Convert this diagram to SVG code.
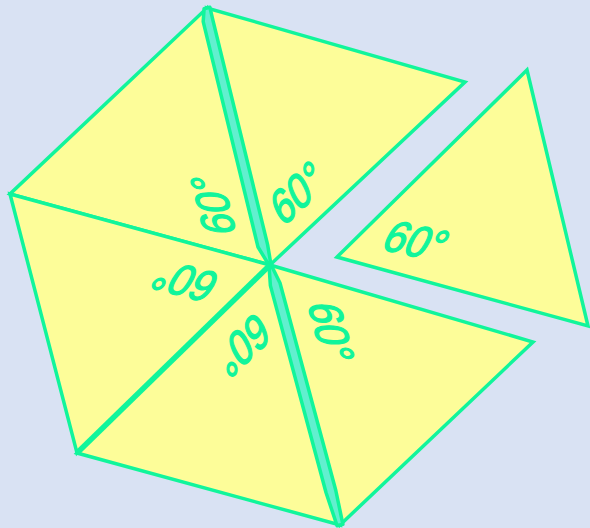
<svg xmlns="http://www.w3.org/2000/svg" width="590" height="528" viewBox="0 0 590 528">
<style>
.tri{fill:#FDFD99;stroke:#11F59B;stroke-width:3.5;stroke-linejoin:miter}
.band{fill:#62EFCF;stroke:#11F59B;stroke-width:3.5;stroke-linejoin:round}
.lbl{font-family:"Liberation Sans",Arial,sans-serif;font-size:43px;fill:#11F59B;stroke:#11F59B;stroke-width:1.3;text-anchor:middle;dominant-baseline:central}
</style>
<rect width="590" height="528" fill="#D9E2F3"/>
<g id="tri-top-left"><polygon class="tri" points="270,265 10,194 207,8"/></g>
<g id="tri-top-right"><polygon class="tri" points="270,265 207,8 465,82"/></g>
<g id="tri-left-lower"><polygon class="tri" points="270,265 77,453 10,194"/></g>
<g id="tri-bottom"><polygon class="tri" points="270,265 340,525 77,453"/></g>
<g id="tri-bottom-right"><polygon class="tri" points="270,265 533,342 340,525"/></g>
<g id="tri-separated"><polygon class="tri" points="337,257 527,70 588,326"/></g>
<g id="connectors">
<polygon class="band" points="209.9,7.3 212.7,19.3 267.6,244.6 271,264.8 269,265.2 258,247 203.2,21.7 204.1,8.7"/>
<polygon class="band" points="271,264.7 280,283 335.7,490 342.9,524.3 337.1,525.8 326,492.5 270.4,285.6 269,265.3"/>
<line x1="270" y1="265" x2="77" y2="453" stroke="#11F59B" stroke-width="5.5"/>
</g>
<g id="labels">
<text class="lbl" transform="translate(213,205) rotate(-104) skewX(-16) scale(0.92,1.05)">60°</text>
<text class="lbl" transform="translate(297,193) rotate(-43) skewX(-16) scale(0.92,1.05)">60°</text>
<text class="lbl" transform="translate(185,281) rotate(-165) skewX(-16) scale(0.92,1.05)">60°</text>
<text class="lbl" transform="translate(243,345) rotate(136) skewX(-16) scale(0.92,1.05)">60°</text>
<text class="lbl" transform="translate(331,332) rotate(75) skewX(-16) scale(0.92,1.05)">60°</text>
<text class="lbl" transform="translate(416,241) rotate(12) skewX(-16) scale(0.92,1.05)">60°</text>
</g>
</svg>
